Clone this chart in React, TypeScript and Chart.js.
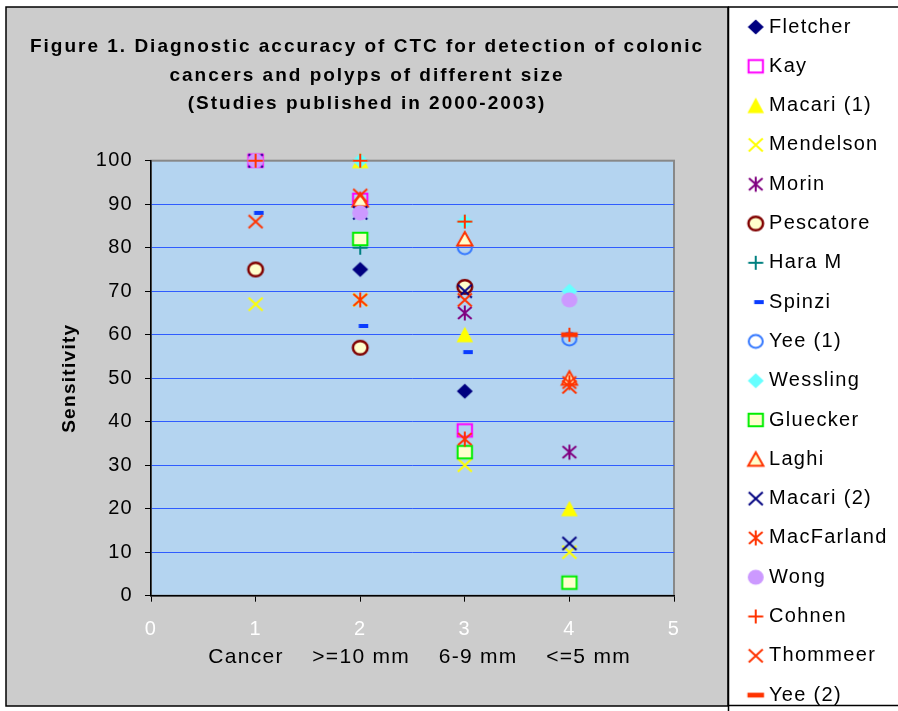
import React, { useEffect, useRef } from 'react';
import { Chart, registerables } from 'chart.js';

Chart.register(...registerables);

// ---------- data ----------
const categoryX = [1, 2, 3, 4];
const chartTitle = [
  'Figure 1. Diagnostic accuracy of CTC for detection of colonic',
  'cancers and polyps of different size',
  '(Studies published in 2000-2003)',
];
const yTitle = 'Sensitivity';
const xTitle = '  Cancer    >=10 mm    6-9 mm    <=5 mm';

const seriesNames = [
  'Fletcher', 'Kay', 'Macari (1)', 'Mendelson', 'Morin', 'Pescatore', 'Hara M', 'Spinzi', 'Yee (1)',
  'Wessling', 'Gluecker', 'Laghi', 'Macari (2)', 'MacFarland', 'Wong', 'Cohnen', 'Thommeer', 'Yee (2)',
];

const fletcher = [null, 75, 47, null];
const kay = [100, 91, 38, null];
const macari1 = [null, 100, 60, 20];
const mendelson = [67, 68, 30, 10];
const morin = [null, null, 65, 33];
const pescatore = [75, 57, 71, null];
const haraM = [null, 80, null, null];
const spinzi = [88, 62, 56, null];
const yee1 = [null, null, 80, 59];
const wessling = [null, 100, 86, 70];
const gluecker = [null, 82, 33, 3];
const laghi = [null, 91, 82, 50];
const macari2 = [100, 88, 70, 12];
const macFarland = [null, 68, 36, 49];
const wong = [100, 88, null, 68];
const cohnen = [100, 100, 86, 60];
const thommeer = [86, 92, 68, 48];
const yee2 = [null, null, null, 60];

const seriesValues = [
  fletcher, kay, macari1, mendelson, morin, pescatore, haraM, spinzi, yee1,
  wessling, gluecker, laghi, macari2, macFarland, wong, cohnen, thommeer, yee2,
];

// ---------- marker styles ----------
const RED = '#ff3300';
type MK = { shape: string; stroke?: string; fill?: string; lw?: number };
const markerSpecs: MK[] = [
  { shape: 'diamond', fill: '#000080' },
  { shape: 'square', stroke: '#ff00ff' },
  { shape: 'triangle', fill: '#ffff00' },
  { shape: 'x', stroke: '#ffff00' },
  { shape: 'asterisk', stroke: '#800080' },
  { shape: 'circle', stroke: '#800000', fill: '#ffffcc', lw: 2.5 },
  { shape: 'plus', stroke: '#008080' },
  { shape: 'shortdash', fill: '#0a3cff' },
  { shape: 'ring', stroke: '#3377ff' },
  { shape: 'diamond', fill: '#66ffff' },
  { shape: 'square', stroke: '#00ee00', fill: '#ffffcc' },
  { shape: 'triangleO', stroke: RED, fill: '#ffffcc' },
  { shape: 'x', stroke: '#000080' },
  { shape: 'asterisk', stroke: RED },
  { shape: 'dot', fill: '#cc99ff' },
  { shape: 'plus', stroke: RED },
  { shape: 'x', stroke: RED },
  { shape: 'longdash', fill: RED },
];

function makeMarker(m: MK): HTMLCanvasElement {
  const W = 24, H = 20;
  const c = document.createElement('canvas');
  c.width = W; c.height = H;
  const g = c.getContext('2d')!;
  g.translate(W / 2, H / 2);
  g.lineWidth = m.lw ?? 2;
  g.strokeStyle = m.stroke ?? 'rgba(0,0,0,0)';
  g.fillStyle = m.fill ?? 'rgba(0,0,0,0)';
  g.lineCap = 'butt';
  g.beginPath();
  switch (m.shape) {
    case 'diamond':
      g.moveTo(0, -7.5); g.lineTo(8, 0); g.lineTo(0, 7.5); g.lineTo(-8, 0); g.closePath();
      g.fill();
      break;
    case 'square':
      g.rect(-7.2, -6.3, 14.4, 12.6);
      if (m.fill) g.fill();
      g.stroke();
      break;
    case 'triangle':
      g.moveTo(0, -8); g.lineTo(8.3, 7.5); g.lineTo(-8.3, 7.5); g.closePath();
      g.fill();
      break;
    case 'triangleO':
      g.moveTo(0, -7); g.lineTo(7.6, 6.5); g.lineTo(-7.6, 6.5); g.closePath();
      g.fill(); g.stroke();
      break;
    case 'x':
      g.moveTo(-7, -6.5); g.lineTo(7, 6.5); g.moveTo(7, -6.5); g.lineTo(-7, 6.5);
      g.stroke();
      break;
    case 'asterisk':
      g.moveTo(-6.8, -6); g.lineTo(6.8, 6); g.moveTo(6.8, -6); g.lineTo(-6.8, 6);
      g.moveTo(0, -7.5); g.lineTo(0, 7.5);
      g.stroke();
      break;
    case 'plus':
      g.moveTo(-7.5, 0); g.lineTo(7.5, 0); g.moveTo(0, -7); g.lineTo(0, 7);
      g.stroke();
      break;
    case 'circle':
      g.ellipse(0, 0, 7.3, 6.8, 0, 0, Math.PI * 2);
      g.fill(); g.stroke();
      break;
    case 'ring':
      g.ellipse(0, 0, 7, 6.4, 0, 0, Math.PI * 2);
      g.stroke();
      break;
    case 'dot':
      g.ellipse(0, 0, 8, 7.4, 0, 0, Math.PI * 2);
      g.fill();
      break;
    case 'shortdash':
      g.rect(-1.5, -2, 9.5, 4);
      g.fill();
      break;
    case 'longdash':
      g.rect(-8.3, -2.4, 16.6, 4.8);
      g.fill();
      break;
  }
  return c;
}

const FONT = "'Liberation Sans', Arial, sans-serif";
const LS = '1.3px';
const TITLE_LS = '2px';

export default function App() {
  const ref = useRef<HTMLCanvasElement>(null);

  useEffect(() => {
    document.body.style.margin = '0';
    const canvas = ref.current!;
    const markers = markerSpecs.map(makeMarker);

    const datasets = seriesNames.map((name, i) => ({
      label: name,
      data: seriesValues[i]
        .map((v, j) => (v == null ? null : { x: categoryX[j], y: v }))
        .filter((p) => p !== null) as { x: number; y: number }[],
      pointStyle: markers[i] as any,
      pointRadius: 8,
      pointHoverRadius: 8,
      showLine: false,
      order: -i,
      clip: false as any,
    }));

    const frame = {
      id: 'frame',
      beforeUpdate(chart: any) {
        chart.ctx.letterSpacing = LS;
      },
      afterLayout(chart: any) {
        const tb = chart.titleBlock;
        if (tb) {
          tb.left = 6; tb.right = 728; tb.width = 722;
          if (!tb.__patched) {
            tb.__patched = true;
            const orig = tb.draw.bind(tb);
            tb.draw = (area: any) => {
              const ctx = chart.ctx;
              ctx.letterSpacing = TITLE_LS;
              orig(area);
              ctx.letterSpacing = LS;
            };
          }
        }
        const lg = chart.legend;
        if (lg) {
          lg.left = 752.4; lg.right = 898; lg.width = 898 - 752.4;
          if (!lg.__patched) {
            lg.__patched = true;
            lg.draw = () => {
              if (lg.options.display) lg._draw();
            };
          }
        }
      },
      beforeDraw(chart: any) {
        const ctx = chart.ctx;
        ctx.letterSpacing = LS;
        ctx.save();
        ctx.fillStyle = '#ffffff';
        ctx.fillRect(0, 0, 898, 711);
        ctx.fillStyle = '#cccccc';
        ctx.fillRect(6, 7, 722, 699);
        ctx.strokeStyle = '#000000';
        ctx.lineWidth = 1.5;
        ctx.strokeRect(6, 7, 722, 699);
        ctx.fillStyle = '#ffffff';
        ctx.fillRect(729, 8, 170, 697);
        ctx.beginPath();
        ctx.moveTo(728.5, 7); ctx.lineTo(728.5, 711);
        ctx.moveTo(728, 7); ctx.lineTo(898, 7);
        ctx.moveTo(728, 705.5); ctx.lineTo(898, 705.5);
        ctx.stroke();
        const a = chart.chartArea;
        ctx.fillStyle = '#b4d4f0';
        ctx.fillRect(a.left, a.top, a.right - a.left, a.bottom - a.top);
        ctx.strokeStyle = '#888888';
        ctx.lineWidth = 2;
        ctx.strokeRect(a.left, a.top, a.right - a.left, a.bottom - a.top);
        ctx.restore();
      },
    };

    const chart = new Chart(canvas, {
      type: 'scatter',
      data: { datasets },
      plugins: [frame],
      options: {
        responsive: false,
        devicePixelRatio: 1,
        animation: false,
        events: [],
        layout: { padding: 0 },
        plugins: {
          tooltip: { enabled: false },
          title: {
            display: true,
            text: chartTitle,
            fullSize: false,
            color: '#000',
            font: { family: FONT, size: 19, weight: 'bold', lineHeight: 1.5 },
            padding: { top: 32.75, bottom: 42.45 },
          },
          legend: {
            display: true,
            position: 'right',
            align: 'start',
            title: { display: true, text: ' ', padding: 0, font: { size: 10, lineHeight: 1.7 } },
            labels: {
              usePointStyle: true,
              pointStyleWidth: 6.6,
              padding: 0,
              color: '#000',
              font: { family: FONT, size: 20, lineHeight: 1.965 },
              generateLabels: (ch: any) => {
                const items = (Chart.defaults.plugins.legend.labels as any).generateLabels(ch);
                items.sort((p: any, q: any) => p.datasetIndex - q.datasetIndex);
                return items.map((it: any, i: number) => ({
                  ...it,
                  text: i < items.length - 1 ? [it.text] : it.text,
                }));
              },
            },
          },
        },
        scales: {
          x: {
            type: 'linear',
            position: 'bottom',
            min: 0,
            max: 5,
            afterFit: (s: any) => { s.height = 115.3; },
            ticks: { stepSize: 1, color: '#ffffff', padding: 15.3, font: { family: FONT, size: 20 } },
            grid: { drawOnChartArea: false, drawTicks: true, tickLength: 6, tickColor: '#000', color: '#000' },
            border: { display: true, color: '#000', width: 1.5 },
            title: {
              display: true,
              text: xTitle,
              color: '#000',
              font: { family: FONT, size: 21 },
              padding: { top: 0, bottom: 41.4 },
            },
          },
          y: {
            type: 'linear',
            position: 'left',
            min: 0,
            max: 100,
            afterFit: (s: any) => { s.width = 151; },
            ticks: { stepSize: 10, color: '#000', padding: 12, font: { family: FONT, size: 20 } },
            grid: {
              color: (c: any) => (c.tick && c.tick.value === 100 ? '#888888' : '#2f5cff'),
              lineWidth: 1,
              tickLength: 6,
              tickColor: '#000',
            },
            border: { display: true, color: '#000', width: 1.5 },
            title: {
              display: true,
              text: yTitle,
              color: '#000',
              font: { family: FONT, size: 19, weight: 'bold' },
              padding: { top: 58, bottom: 0 },
            },
          },
          yR: {
            type: 'linear',
            axis: 'y',
            position: 'right',
            display: true,
            afterFit: (s: any) => {
              const lw = s.chart.legend ? s.chart.legend.width : 0;
              s.width = Math.max(0, 898 - 674 - lw);
            },
            ticks: { display: false },
            grid: { display: false, drawTicks: false },
            border: { display: false },
          },
        },
      } as any,
    });

    return () => chart.destroy();
  }, []);

  return (
    <div style={{ width: 898, height: 711 }}>
      <canvas ref={ref} width={898} height={711} style={{ display: 'block' }} />
    </div>
  );
}
